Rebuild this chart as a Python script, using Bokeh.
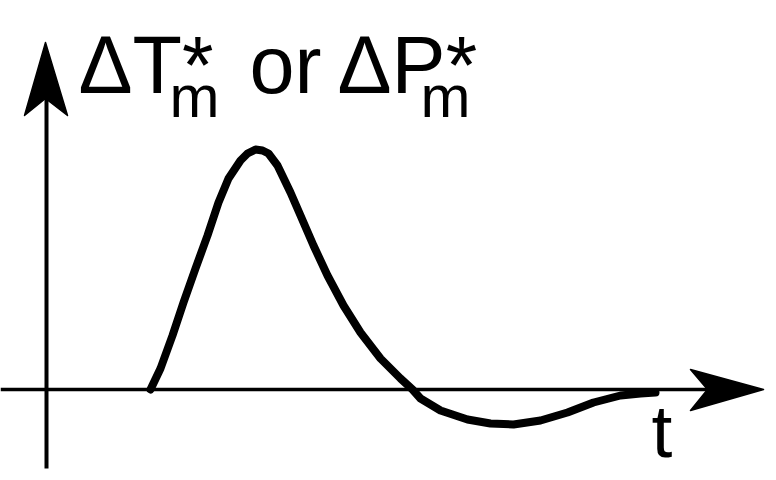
from bokeh.plotting import figure
from bokeh.models import Range1d
from bokeh.core.properties import value
from bokeh.embed import file_html
from bokeh.resources import INLINE

# Response curve: time t versus the disturbance magnitude (arbitrary units)
t_vals = [1.04, 1.14, 1.26, 1.37, 1.49, 1.61, 1.72, 1.82, 1.94, 2.01, 2.09,
          2.16, 2.22, 2.31, 2.44, 2.54, 2.67, 2.81, 2.97, 3.14, 3.34, 3.54,
          3.66, 3.74, 3.94, 4.21, 4.44, 4.67, 4.94, 5.21, 5.47, 5.74, 5.94,
          6.09]
resp_vals = [0.00, 0.21, 0.54, 0.87, 1.21, 1.54, 1.87, 2.11, 2.29, 2.36, 2.40,
             2.39, 2.36, 2.24, 1.97, 1.74, 1.44, 1.14, 0.84, 0.57, 0.31, 0.11,
             0.00, -0.09, -0.21, -0.30, -0.34, -0.35, -0.31, -0.23, -0.13,
             -0.06, -0.04, -0.03]

# Axis extents
t_min, t_max = -0.46, 7.17
v_min, v_max = -0.79, 3.47

# Labels
y_label_main = ["ΔT*", "or", "ΔP*"]
y_label_main_t = [0.32, 2.03, 2.91]
y_label_sub = ["m", "m"]
y_label_sub_t = [1.23, 3.74]
x_label = "t"

FONT = value("Liberation Sans")

p = figure(width=776, height=480,
           x_range=Range1d(-0.46, 7.30), y_range=Range1d(-0.91, 3.89),
           output_backend="svg", toolbar_location=None,
           min_border=0, min_border_left=0, min_border_right=0,
           min_border_top=0, min_border_bottom=0)
p.axis.visible = False
p.grid.visible = False
p.outline_line_color = None
p.background_fill_color = "white"
p.border_fill_color = "white"

# Horizontal (time) axis with arrowhead
p.line([t_min, 6.61], [0, 0], line_color="black", line_width=3.5)
p.patch([7.17, 6.44, 6.61, 6.44], [0.0, 0.20, 0.0, -0.21],
        fill_color="black", line_color="black", line_width=1.5,
        line_join="round")

# Vertical (magnitude) axis with arrowhead
p.line([0, 0], [v_min, 2.95], line_color="black", line_width=4)
p.patch([-0.01, -0.22, -0.01, 0.21], [v_max, 2.74, 2.91, 2.74],
        fill_color="black", line_color="black", line_width=1.5,
        line_join="round")

# Response curve
p.line(t_vals, resp_vals, line_color="black", line_width=8,
       line_join="round", line_cap="round")

# Axis labels
p.text(x=y_label_main_t, y=[3.25] * 3, text=y_label_main,
       text_font=FONT, text_font_size="81px", text_color="black",
       text_baseline="alphabetic", text_align="left")
p.text(x=y_label_sub_t, y=[2.93] * 2, text=y_label_sub,
       text_font=FONT, text_font_size="60px", text_color="black",
       text_baseline="alphabetic", text_align="left")
p.text(x=[6.05], y=[-0.41], text=[x_label],
       text_font=FONT, text_font_size="75px", text_color="black",
       text_baseline="alphabetic", text_align="left")

open("out.html", "w").write(file_html(p, INLINE))
